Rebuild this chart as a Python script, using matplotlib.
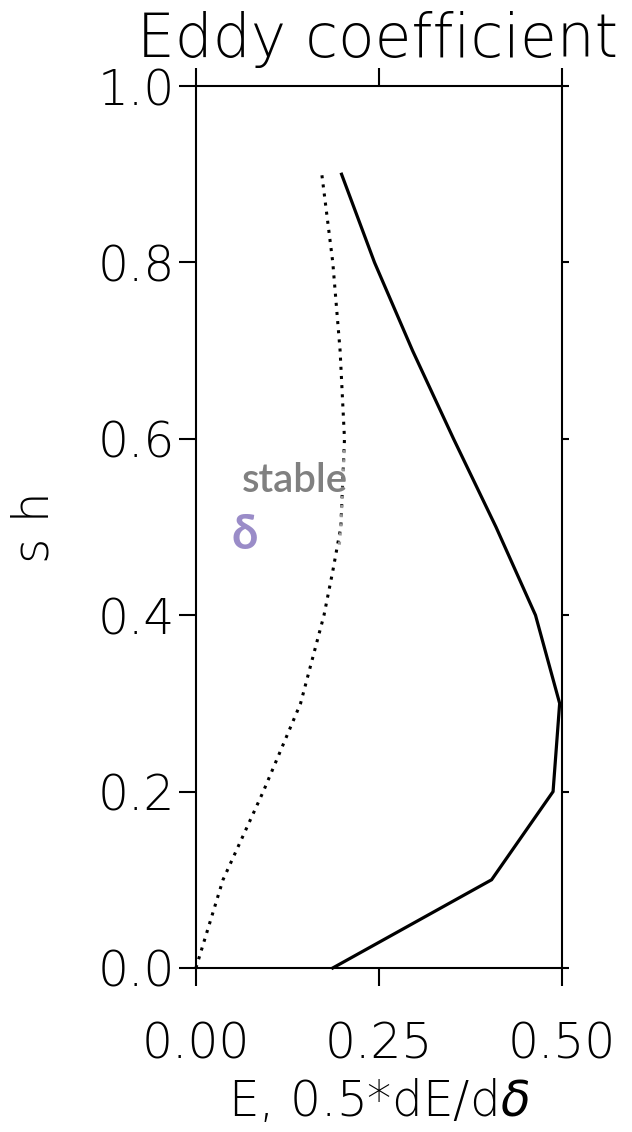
import numpy as np
import matplotlib
matplotlib.use('Agg')
import matplotlib.pyplot as plt

plt.rcParams['font.family'] = ['DejaVu Sans']
plt.rcParams['mathtext.fontset'] = 'dejavusans'

# height levels (s h)
sh = [0.0, 0.1, 0.2, 0.3, 0.4, 0.5, 0.6, 0.7, 0.8, 0.9]
# E  (solid)
E = [0.187, 0.404, 0.488, 0.497, 0.464, 0.410, 0.352, 0.296, 0.244, 0.199]
# 0.5*dE/d delta  (dotted)
sh_d = [0.0, 0.1, 0.2, 0.3, 0.4, 0.45, 0.5, 0.6, 0.7, 0.8, 0.9]
dE = [0.0, 0.037, 0.092, 0.143, 0.175, 0.187, 0.198, 0.203, 0.197, 0.187, 0.172]

xticks = [0.0, 0.25, 0.5]
xticklabels = ['0.00', '0.25', '0.50']
yticks = [0.0, 0.2, 0.4, 0.6, 0.8, 1.0]
yticklabels = ['0.0', '0.2', '0.4', '0.6', '0.8', '1.0']

fig = plt.figure(figsize=(6.32, 11.32), dpi=100)
ax = fig.add_axes([0.310, 0.1449, 0.579, 0.7791])

ax.plot(E, sh, color='black', lw=2.3, solid_joinstyle='miter', clip_on=False)
dot = (0, (1, 2.0))
ax.plot(dE, sh_d, color='black', lw=2.2, linestyle=dot, dash_capstyle='butt', clip_on=False)
# part of the dotted line behind the "stable" label shows grey
sh_g = [0.48, 0.5, 0.59]
dE_g = [0.196, 0.198, 0.2028]
ax.plot(dE_g, sh_g, color='#9a9a9a', lw=2.2, linestyle=dot, dash_capstyle='butt')

ax.set_xlim(0, 0.5)
ax.set_ylim(0, 1.0)
for s in ax.spines.values():
    s.set_linewidth(1.5)

fw = 200
ax.set_xticks(xticks)
ax.set_xticklabels(xticklabels)
ax.set_yticks(yticks)
ax.set_yticklabels(yticklabels)
ax.tick_params(axis='x', which='both', direction='out', length=13, width=1.5,
               top=True, bottom=True, labelsize=35, pad=25)
ax.tick_params(axis='y', which='both', direction='out', length=12, width=1.5,
               left=True, labelsize=35, pad=3)
ax.tick_params(axis='y', right=True)
for t in ax.yaxis.get_ticklines()[1::2]:
    t.set_markersize(5)
for lab in ax.get_xticklabels() + ax.get_yticklabels():
    lab.set_fontweight(fw)

ax.set_xlabel('E, 0.5*dE/d$\\delta$', fontsize=35, fontweight=fw, labelpad=7)
ax.set_ylabel('s h', fontsize=35, fontweight=fw, labelpad=28)

fig.text(0.597, 0.964, 'Eddy coefficient', ha='center', va='center',
         fontsize=43, fontweight=fw)

ax.text(0.135, 0.553, 'stable', color='#808080', fontsize=29, fontweight='semibold',
        ha='center', va='center', family=['Lato', 'DejaVu Sans'])
ax.text(0.067, 0.491, '\u03b4', color='#9a8cc8', fontsize=34, fontweight='bold',
        ha='center', va='center', family=['Lato', 'DejaVu Sans'])

fig.savefig('out.png', dpi=100)
